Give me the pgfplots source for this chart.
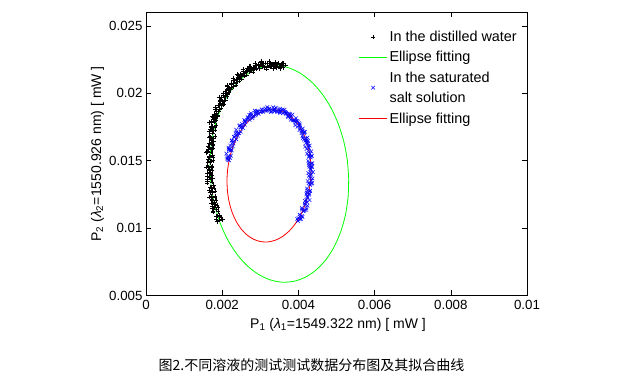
\documentclass[border=0pt]{standalone}
\usepackage{pgfplots}
\pgfplotsset{compat=1.18}
\usepackage{fontspec}
\setmainfont{Liberation Sans}
\newfontfamily\cjk{Noto Sans CJK SC}
\definecolor{mgreen}{rgb}{0,1,0}
\definecolor{mred}{rgb}{1,0,0}
\definecolor{mblue}{rgb}{0,0,1}
\begin{document}
\begin{tikzpicture}
\useasboundingbox (-146pt,-81.5pt) rectangle (473pt,295.5pt);
\begin{axis}[
  scale only axis, width=381pt, height=283pt,
  xmin=0, xmax=0.01, ymin=0.005, ymax=0.026,
  scaled ticks=false,
  xtick={0,0.002,0.004,0.006,0.008,0.01},
  xticklabels={0,0.002,0.004,0.006,0.008,0.01},
  ytick={0.005,0.01,0.015,0.02,0.025},
  yticklabels={0.005,0.01,0.015,0.02,0.025},
  tick align=inside, major tick length=5pt,
  axis line style={line width=0.6pt},
  tick style={line width=0.6pt, black},
  tick label style={font=\fontsize{13.3}{16}\selectfont},
  xticklabel style={yshift=-1pt},
  label style={font=\fontsize{14}{17}\selectfont},
  xlabel={P\textsubscript{1} (\textit{λ}\textsubscript{1}=1549.322 nm) [ mW ]},
  ylabel={P\textsubscript{2} (\textit{λ}\textsubscript{2}=1550.926 nm) [ mW ]},
  xlabel style={at={(axis description cs:0.504,-0.115)}, anchor=base},
  ylabel style={at={(axis description cs:-0.118,0.5)}, anchor=base},
  legend style={draw=none, fill=none, at={(axis description cs:0.550,0.950)}, anchor=north west,
    font=\fontsize{14.4}{17}\selectfont, row sep=4.5pt},
  legend cell align=left,
  legend image code/.code={\draw[mark repeat=2,mark phase=2] plot coordinates {(0pt,0pt) (14pt,0pt) (28pt,0pt)};},
]
\addplot[only marks, mark=+, mark size=2.2pt, black, mark options={line width=0.5pt}] coordinates {
(3.575e-3,22.141e-3) (3.665e-3,22.111e-3) (3.591e-3,21.927e-3) (3.491e-3,22.007e-3)
(3.418e-3,22.104e-3) (3.518e-3,21.854e-3) (3.484e-3,22.270e-3) (3.394e-3,22.320e-3)
(3.351e-3,21.897e-3) (3.431e-3,21.997e-3) (3.377e-3,22.094e-3) (3.277e-3,22.174e-3)
(3.184e-3,22.011e-3) (3.254e-3,22.111e-3) (3.181e-3,22.259e-3) (3.091e-3,21.919e-3)
(3.029e-3,22.276e-3) (3.119e-3,22.246e-3) (3.047e-3,21.983e-3) (2.947e-3,22.063e-3)
(2.876e-3,22.082e-3) (2.976e-3,21.832e-3) (2.945e-3,22.171e-3) (2.855e-3,22.221e-3)
(2.815e-3,21.720e-3) (2.895e-3,21.820e-3) (2.846e-3,21.839e-3) (2.746e-3,21.919e-3)
(2.657e-3,21.680e-3) (2.727e-3,21.780e-3) (2.659e-3,21.850e-3) (2.569e-3,21.510e-3)
(2.553e-3,21.673e-3) (2.643e-3,21.643e-3) (2.577e-3,21.305e-3) (2.477e-3,21.385e-3)
(2.413e-3,21.330e-3) (2.513e-3,21.080e-3) (2.490e-3,21.345e-3) (2.400e-3,21.395e-3)
(2.368e-3,20.822e-3) (2.448e-3,20.922e-3) (2.407e-3,20.871e-3) (2.307e-3,20.951e-3)
(2.227e-3,20.641e-3) (2.297e-3,20.741e-3) (2.240e-3,20.743e-3) (2.150e-3,20.403e-3)
(2.143e-3,20.498e-3) (2.233e-3,20.468e-3) (2.178e-3,20.065e-3) (2.078e-3,20.145e-3)
(2.025e-3,20.026e-3) (2.125e-3,19.776e-3) (2.113e-3,19.978e-3) (2.023e-3,20.028e-3)
(2.004e-3,19.394e-3) (2.084e-3,19.494e-3) (2.055e-3,19.383e-3) (1.955e-3,19.463e-3)
(1.889e-3,19.096e-3) (1.959e-3,19.196e-3) (1.914e-3,19.143e-3) (1.824e-3,18.803e-3)
(1.832e-3,18.844e-3) (1.922e-3,18.814e-3) (1.881e-3,18.359e-3) (1.781e-3,18.439e-3)
(1.742e-3,18.270e-3) (1.842e-3,18.020e-3) (1.845e-3,18.175e-3) (1.755e-3,18.225e-3)
(1.751e-3,17.545e-3) (1.831e-3,17.645e-3) (1.818e-3,17.492e-3) (1.718e-3,17.572e-3)
(1.667e-3,17.164e-3) (1.737e-3,17.264e-3) (1.749e-3,17.052e-3) (1.659e-3,16.712e-3)
(1.682e-3,16.717e-3) (1.772e-3,16.687e-3) (1.748e-3,16.199e-3) (1.648e-3,16.279e-3)
(1.626e-3,16.078e-3) (1.726e-3,15.828e-3) (1.746e-3,15.955e-3) (1.656e-3,16.005e-3)
(1.669e-3,15.300e-3) (1.749e-3,15.400e-3) (1.753e-3,15.222e-3) (1.653e-3,15.302e-3)
(1.620e-3,14.874e-3) (1.690e-3,14.974e-3) (1.679e-3,14.864e-3) (1.589e-3,14.524e-3)
(1.630e-3,14.514e-3) (1.720e-3,14.484e-3) (1.713e-3,13.983e-3) (1.613e-3,14.063e-3)
(1.609e-3,13.852e-3) (1.709e-3,13.602e-3) (1.747e-3,13.722e-3) (1.657e-3,13.772e-3)
(1.687e-3,13.062e-3) (1.767e-3,13.162e-3) (1.789e-3,12.983e-3) (1.689e-3,13.063e-3)
(1.674e-3,12.635e-3) (1.744e-3,12.735e-3) (1.750e-3,12.629e-3) (1.660e-3,12.289e-3)
(1.719e-3,12.285e-3) (1.809e-3,12.255e-3) (1.819e-3,11.763e-3) (1.719e-3,11.843e-3)
(1.732e-3,11.644e-3) (1.832e-3,11.394e-3) (1.887e-3,11.528e-3) (1.797e-3,11.578e-3)
(1.844e-3,10.885e-3) (1.924e-3,10.985e-3) (1.963e-3,10.826e-3) (1.863e-3,10.906e-3)
(1.864e-3,10.500e-3) (1.934e-3,10.600e-3)
(3.595e-3,21.941e-3) (3.611e-3,22.207e-3) (3.428e-3,21.904e-3) (3.444e-3,22.150e-3)
(3.271e-3,22.197e-3) (3.337e-3,21.854e-3) (3.234e-3,22.361e-3) (3.241e-3,22.019e-3)
(3.049e-3,22.076e-3) (3.067e-3,22.263e-3) (2.886e-3,21.882e-3) (2.905e-3,22.051e-3)
(2.735e-3,22.020e-3) (2.806e-3,21.599e-3) (2.707e-3,22.030e-3) (2.719e-3,21.610e-3)
(2.573e-3,21.473e-3) (2.597e-3,21.585e-3) (2.423e-3,21.130e-3) (2.450e-3,21.225e-3)
(2.288e-3,21.122e-3) (2.367e-3,20.631e-3) (2.277e-3,20.991e-3) (2.300e-3,20.503e-3)
(2.163e-3,20.298e-3) (2.198e-3,20.345e-3) (2.035e-3,19.826e-3) (2.073e-3,19.858e-3)
(1.924e-3,19.694e-3) (2.015e-3,19.143e-3) (1.939e-3,19.446e-3) (1.974e-3,18.903e-3)
(1.852e-3,18.644e-3) (1.901e-3,18.639e-3) (1.752e-3,18.070e-3) (1.805e-3,18.055e-3)
(1.671e-3,17.845e-3) (1.778e-3,17.252e-3) (1.717e-3,17.514e-3) (1.809e-3,16.812e-3)
(1.702e-3,16.517e-3) (1.768e-3,16.479e-3) (1.636e-3,15.878e-3) (1.706e-3,15.835e-3)
(1.589e-3,15.600e-3) (1.713e-3,14.982e-3) (1.670e-3,15.224e-3) (1.739e-3,14.624e-3)
(1.650e-3,14.314e-3) (1.733e-3,14.263e-3) (1.619e-3,13.652e-3) (1.707e-3,13.602e-3)
(1.607e-3,13.362e-3) (1.749e-3,12.743e-3) (1.724e-3,12.985e-3) (1.810e-3,12.389e-3)
(1.739e-3,12.085e-3) (1.839e-3,12.043e-3) (1.742e-3,11.444e-3) (1.847e-3,11.408e-3)
(1.764e-3,11.185e-3) (1.923e-3,10.586e-3) (1.914e-3,10.850e-3)
(3.565e-3,22.241e-3) (3.561e-3,22.077e-3) (3.548e-3,22.154e-3) (3.354e-3,21.990e-3)
(3.391e-3,22.237e-3) (3.257e-3,21.954e-3) (3.324e-3,22.141e-3) (3.161e-3,21.789e-3)
(3.019e-3,22.376e-3) (3.017e-3,22.133e-3) (3.006e-3,22.132e-3) (2.815e-3,21.891e-3)
(2.855e-3,22.060e-3) (2.726e-3,21.699e-3) (2.797e-3,21.810e-3) (2.639e-3,21.380e-3)
(2.543e-3,21.773e-3) (2.547e-3,21.455e-3) (2.543e-3,21.380e-3) (2.360e-3,21.065e-3)
(2.408e-3,21.162e-3) (2.287e-3,20.731e-3) (2.367e-3,20.771e-3) (2.220e-3,20.273e-3)
(2.133e-3,20.598e-3) (2.148e-3,20.215e-3) (2.155e-3,20.076e-3) (1.983e-3,19.698e-3)
(2.044e-3,19.734e-3) (1.935e-3,19.243e-3) (2.029e-3,19.226e-3) (1.894e-3,18.673e-3)
(1.822e-3,18.944e-3) (1.851e-3,18.509e-3) (1.872e-3,18.320e-3) (1.715e-3,17.895e-3)
(1.791e-3,17.885e-3) (1.698e-3,17.352e-3) (1.807e-3,17.294e-3) (1.729e-3,16.582e-3)
(1.672e-3,16.817e-3) (1.718e-3,16.349e-3) (1.756e-3,16.128e-3) (1.616e-3,15.675e-3)
(1.709e-3,15.640e-3) (1.633e-3,15.082e-3) (1.760e-3,15.004e-3) (1.659e-3,14.394e-3)
(1.620e-3,14.614e-3) (1.683e-3,14.133e-3) (1.739e-3,13.902e-3) (1.617e-3,13.442e-3)
(1.727e-3,13.402e-3) (1.669e-3,12.843e-3) (1.814e-3,12.765e-3) (1.730e-3,12.159e-3)
(1.709e-3,12.385e-3) (1.789e-3,11.913e-3) (1.862e-3,11.694e-3) (1.757e-3,11.248e-3)
(1.884e-3,11.225e-3) (1.843e-3,10.686e-3) (2.004e-3,10.630e-3)
};
\addlegendentry{In the distilled water}
\addplot[smooth, color=mgreen, line width=0.8pt] coordinates {
(5.320e-3,13.696e-3) (5.281e-3,15.097e-3) (5.188e-3,16.466e-3) (5.043e-3,17.761e-3)
(4.852e-3,18.942e-3) (4.619e-3,19.974e-3) (4.353e-3,20.826e-3) (4.060e-3,21.471e-3)
(3.751e-3,21.890e-3) (3.434e-3,22.070e-3) (3.119e-3,22.006e-3) (2.816e-3,21.699e-3)
(2.533e-3,21.160e-3) (2.280e-3,20.403e-3) (2.064e-3,19.454e-3) (1.891e-3,18.339e-3)
(1.767e-3,17.094e-3) (1.696e-3,15.755e-3) (1.680e-3,14.364e-3) (1.719e-3,12.963e-3)
(1.812e-3,11.594e-3) (1.957e-3,10.299e-3) (2.148e-3,9.118e-3) (2.381e-3,8.086e-3)
(2.647e-3,7.234e-3) (2.940e-3,6.589e-3) (3.249e-3,6.170e-3) (3.566e-3,5.990e-3)
(3.881e-3,6.054e-3) (4.184e-3,6.361e-3) (4.467e-3,6.900e-3) (4.721e-3,7.657e-3)
(4.937e-3,8.606e-3) (5.109e-3,9.721e-3) (5.233e-3,10.966e-3) (5.304e-3,12.305e-3)
(5.320e-3,13.696e-3)
};
\addlegendentry{Ellipse fitting}
\addplot[only marks, mark=x, mark size=2.5pt, color=mblue, mark options={line width=0.5pt}, legend image post style={yshift=-10pt, overlay}] coordinates {
(3.969e-3,10.681e-3) (4.039e-3,10.661e-3) (4.070e-3,10.688e-3) (4.000e-3,10.748e-3)
(4.028e-3,11.013e-3) (4.108e-3,10.823e-3) (4.164e-3,11.336e-3) (4.094e-3,11.376e-3)
(4.138e-3,11.267e-3) (4.208e-3,11.347e-3) (4.239e-3,11.654e-3) (4.169e-3,11.714e-3)
(4.168e-3,11.827e-3) (4.228e-3,11.907e-3) (4.244e-3,12.275e-3) (4.174e-3,12.015e-3)
(4.208e-3,12.508e-3) (4.278e-3,12.488e-3) (4.288e-3,12.566e-3) (4.218e-3,12.626e-3)
(4.226e-3,12.936e-3) (4.306e-3,12.746e-3) (4.340e-3,13.299e-3) (4.270e-3,13.339e-3)
(4.292e-3,13.265e-3) (4.362e-3,13.345e-3) (4.371e-3,13.681e-3) (4.301e-3,13.741e-3)
(4.277e-3,13.878e-3) (4.337e-3,13.958e-3) (4.330e-3,14.345e-3) (4.260e-3,14.085e-3)
(4.290e-3,14.541e-3) (4.360e-3,14.521e-3) (4.347e-3,14.606e-3) (4.277e-3,14.666e-3)
(4.261e-3,14.978e-3) (4.341e-3,14.788e-3) (4.351e-3,15.338e-3) (4.281e-3,15.378e-3)
(4.279e-3,15.294e-3) (4.349e-3,15.374e-3) (4.334e-3,15.696e-3) (4.264e-3,15.756e-3)
(4.216e-3,15.873e-3) (4.276e-3,15.953e-3) (4.245e-3,16.313e-3) (4.175e-3,16.053e-3)
(4.182e-3,16.479e-3) (4.252e-3,16.459e-3) (4.215e-3,16.507e-3) (4.145e-3,16.567e-3)
(4.106e-3,16.837e-3) (4.186e-3,16.647e-3) (4.175e-3,17.150e-3) (4.105e-3,17.190e-3)
(4.081e-3,17.054e-3) (4.151e-3,17.134e-3) (4.114e-3,17.399e-3) (4.044e-3,17.459e-3)
(3.976e-3,17.515e-3) (4.036e-3,17.595e-3) (3.985e-3,17.890e-3) (3.915e-3,17.630e-3)
(3.902e-3,17.985e-3) (3.972e-3,17.965e-3) (3.917e-3,17.939e-3) (3.847e-3,17.999e-3)
(3.790e-3,18.192e-3) (3.870e-3,18.002e-3) (3.842e-3,18.423e-3) (3.772e-3,18.463e-3)
(3.732e-3,18.241e-3) (3.802e-3,18.321e-3) (3.750e-3,18.498e-3) (3.680e-3,18.558e-3)
(3.597e-3,18.522e-3) (3.657e-3,18.602e-3) (3.593e-3,18.803e-3) (3.523e-3,18.543e-3)
(3.498e-3,18.801e-3) (3.568e-3,18.781e-3) (3.503e-3,18.655e-3) (3.433e-3,18.715e-3)
(3.366e-3,18.807e-3) (3.446e-3,18.617e-3) (3.409e-3,18.935e-3) (3.339e-3,18.975e-3)
(3.292e-3,18.650e-3) (3.362e-3,18.730e-3) (3.304e-3,18.801e-3) (3.234e-3,18.861e-3)
(3.146e-3,18.719e-3) (3.206e-3,18.799e-3) (3.139e-3,18.893e-3) (3.069e-3,18.633e-3)
(3.041e-3,18.784e-3) (3.111e-3,18.764e-3) (3.014e-3,18.612e-3) (2.944e-3,18.672e-3)
(2.878e-3,18.657e-3) (2.958e-3,18.467e-3) (2.922e-3,18.679e-3) (2.852e-3,18.719e-3)
(2.807e-3,18.289e-3) (2.877e-3,18.369e-3) (2.824e-3,18.336e-3) (2.754e-3,18.396e-3)
(2.671e-3,18.152e-3) (2.731e-3,18.232e-3) (2.670e-3,18.226e-3) (2.600e-3,17.966e-3)
(2.580e-3,18.018e-3) (2.650e-3,17.998e-3) (2.591e-3,17.670e-3) (2.521e-3,17.730e-3)
(2.465e-3,17.621e-3) (2.545e-3,17.431e-3) (2.520e-3,17.553e-3) (2.450e-3,17.593e-3)
(2.417e-3,17.075e-3) (2.487e-3,17.155e-3) (2.447e-3,17.038e-3) (2.377e-3,17.098e-3)
(2.308e-3,16.773e-3) (2.368e-3,16.853e-3) (2.322e-3,16.770e-3) (2.252e-3,16.510e-3)
(2.248e-3,16.489e-3) (2.318e-3,16.469e-3) (2.277e-3,16.072e-3) (2.207e-3,16.132e-3)
(2.168e-3,15.959e-3) (2.248e-3,15.769e-3) (2.242e-3,15.831e-3) (2.172e-3,15.871e-3)
(2.159e-3,15.298e-3) (2.229e-3,15.378e-3) (2.208e-3,15.211e-3) (2.138e-3,15.271e-3)
(2.150e-3,15.080e-3)
(3.989e-3,10.531e-3) (4.090e-3,10.898e-3) (4.038e-3,10.863e-3) (4.134e-3,11.246e-3)
(4.088e-3,11.497e-3) (4.209e-3,11.474e-3) (4.208e-3,12.087e-3) (4.294e-3,12.085e-3)
(4.228e-3,12.358e-3) (4.308e-3,12.776e-3) (4.236e-3,12.786e-3) (4.310e-3,13.209e-3)
(4.242e-3,13.495e-3) (4.341e-3,13.501e-3) (4.317e-3,14.138e-3) (4.380e-3,14.155e-3)
(4.310e-3,14.391e-3) (4.367e-3,14.816e-3) (4.271e-3,14.828e-3) (4.321e-3,15.248e-3)
(4.229e-3,15.524e-3) (4.304e-3,15.516e-3) (4.256e-3,16.133e-3) (4.295e-3,16.123e-3)
(4.202e-3,16.329e-3) (4.235e-3,16.717e-3) (4.116e-3,16.687e-3) (4.145e-3,17.060e-3)
(4.031e-3,17.284e-3) (4.084e-3,17.219e-3) (4.016e-3,17.775e-3) (4.035e-3,17.700e-3)
(3.922e-3,17.835e-3) (3.937e-3,18.149e-3) (3.800e-3,18.042e-3) (3.812e-3,18.333e-3)
(3.682e-3,18.471e-3) (3.720e-3,18.318e-3) (3.637e-3,18.782e-3) (3.643e-3,18.613e-3)
(3.518e-3,18.651e-3) (3.523e-3,18.865e-3) (3.376e-3,18.657e-3) (3.379e-3,18.845e-3)
(3.242e-3,18.880e-3) (3.274e-3,18.621e-3) (3.186e-3,18.979e-3) (3.189e-3,18.703e-3)
(3.061e-3,18.634e-3) (3.034e-3,18.822e-3) (2.888e-3,18.507e-3) (2.892e-3,18.589e-3)
(2.757e-3,18.519e-3) (2.794e-3,18.156e-3) (2.711e-3,18.412e-3) (2.720e-3,18.036e-3)
(2.600e-3,17.868e-3) (2.611e-3,17.880e-3) (2.475e-3,17.471e-3) (2.490e-3,17.463e-3)
(2.367e-3,17.305e-3) (2.417e-3,16.858e-3) (2.348e-3,17.033e-3) (2.372e-3,16.580e-3)
(2.268e-3,16.339e-3) (2.297e-3,16.282e-3) (2.178e-3,15.809e-3) (2.212e-3,15.741e-3)
(2.109e-3,15.528e-3) (2.178e-3,15.031e-3) (2.130e-3,15.160e-3)
};
\addlegendentry{In the saturated}
\addlegendimage{empty legend}
\addlegendentry{salt solution}
\addplot[smooth, color=mred, line width=0.8pt] coordinates {
(4.330e-3,14.175e-3) (4.318e-3,15.022e-3) (4.272e-3,15.834e-3) (4.195e-3,16.587e-3)
(4.089e-3,17.257e-3) (3.956e-3,17.825e-3) (3.802e-3,18.273e-3) (3.629e-3,18.587e-3)
(3.445e-3,18.758e-3) (3.254e-3,18.781e-3) (3.062e-3,18.655e-3) (2.875e-3,18.384e-3)
(2.700e-3,17.976e-3) (2.540e-3,17.443e-3) (2.401e-3,16.802e-3) (2.287e-3,16.072e-3)
(2.201e-3,15.276e-3) (2.147e-3,14.437e-3) (2.126e-3,13.581e-3) (2.139e-3,12.734e-3)
(2.184e-3,11.922e-3) (2.261e-3,11.169e-3) (2.367e-3,10.499e-3) (2.500e-3,9.931e-3)
(2.654e-3,9.484e-3) (2.827e-3,9.169e-3) (3.011e-3,8.998e-3) (3.202e-3,8.975e-3)
(3.394e-3,9.101e-3) (3.580e-3,9.372e-3) (3.757e-3,9.781e-3) (3.916e-3,10.313e-3)
(4.055e-3,10.954e-3) (4.169e-3,11.684e-3) (4.255e-3,12.480e-3) (4.309e-3,13.319e-3)
(4.330e-3,14.175e-3)
};
\addlegendentry{Ellipse fitting}
\end{axis}
\node[anchor=center, font=\cjk\fontsize{14}{17}\selectfont] at (165.5pt,-69.5pt) {图2.不同溶液的测试测试数据分布图及其拟合曲线};
\end{tikzpicture}
\end{document}
